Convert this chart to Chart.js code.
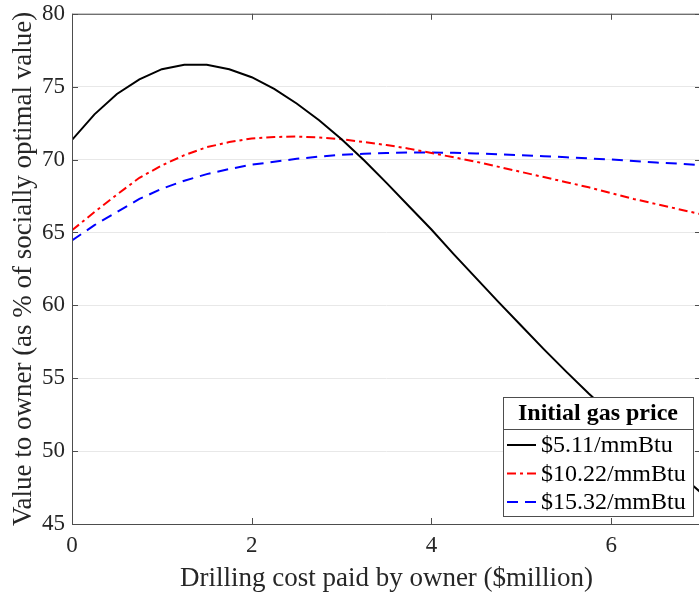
<!DOCTYPE html>
<html>
<head>
<meta charset="utf-8">
<title>Value to owner vs drilling cost</title>
<script src="https://cdn.jsdelivr.net/npm/chart.js@4.4.1/dist/chart.umd.min.js"></script>
<style>
    html, body { margin: 0; padding: 0; background: #fff; overflow: hidden; }
    #wrap { width: 699px; height: 595px; overflow: hidden; }
    /* the y tick labels force extra room above the axes; pull the canvas up */
    #valueChart { display: block; margin-top: -7px; }
</style>
</head>
<body>
<div id="wrap"><canvas id="valueChart" width="704" height="602"></canvas></div>
<script>
// drilling cost paid by owner, $million
const drillingCost = [0, 0.25, 0.5, 0.75, 1, 1.25, 1.5, 1.75, 2, 2.25, 2.5, 2.75, 3, 3.25, 3.5,
    3.75, 4, 4.25, 4.5, 4.75, 5, 5.25, 5.5, 5.75, 6, 6.25, 6.5, 6.75, 7];

// value to owner, % of socially optimal value, one array per initial gas price
const price511 = [71.35, 73.1, 74.5, 75.5, 76.2, 76.5, 76.5, 76.2, 75.65, 74.85, 73.85, 72.7, 71.4, 69.95, 68.4,
    66.8, 65.2, 63.5, 61.85, 60.2, 58.6, 57.0, 55.45, 53.95, 52.55, 51.2, 49.85, 48.5, 47.15];
const price1022 = [65.15, 66.4, 67.6, 68.75, 69.6, 70.3, 70.85, 71.2, 71.45, 71.55, 71.58, 71.52, 71.4, 71.2, 71.0,
    70.75, 70.45, 70.15, 69.85, 69.5, 69.15, 68.8, 68.45, 68.1, 67.7, 67.3, 66.95, 66.6, 66.25];
const price1532 = [64.45, 65.5, 66.4, 67.3, 68.0, 68.55, 69.0, 69.35, 69.65, 69.85, 70.05, 70.2, 70.33, 70.4, 70.45,
    70.48, 70.48, 70.46, 70.42, 70.36, 70.3, 70.23, 70.16, 70.08, 70.0, 69.9, 69.8, 69.72, 69.62];

const seriesLabels = ["$5.11/mmBtu", "$10.22/mmBtu", "$15.32/mmBtu"];
const legendTitle = "Initial gas price";
const xTicks = [0, 2, 4, 6];
const yTicks = [45, 50, 55, 60, 65, 70, 75, 80];

const serif = "'Liberation Serif', 'Times New Roman', serif";
const axisColor = "#4d4d4d";
const textColor = "#262626";

function toPoints(ys) {
    return drillingCost.map((x, i) => ({ x: x, y: ys[i] }));
}

// box around the axes with inward tick marks on all four sides
const framePlugin = {
    id: "frame",
    afterDatasetsDraw(chart) {
        const ctx = chart.ctx;
        const a = chart.chartArea;
        const xs = chart.scales.x;
        const ys = chart.scales.y;
        const len = 6;
        ctx.save();
        ctx.strokeStyle = axisColor;
        ctx.lineWidth = 1;
        ctx.strokeRect(a.left + 0.5, a.top + 0.5, a.right - a.left, a.bottom - a.top);
        ctx.beginPath();
        xTicks.forEach(v => {
            const px = Math.round(xs.getPixelForValue(v)) + 0.5;
            ctx.moveTo(px, a.bottom); ctx.lineTo(px, a.bottom - len);
            ctx.moveTo(px, a.top); ctx.lineTo(px, a.top + len);
        });
        yTicks.forEach(v => {
            const py = Math.round(ys.getPixelForValue(v)) + 0.5;
            ctx.moveTo(a.left, py); ctx.lineTo(a.left + len, py);
            ctx.moveTo(a.right, py); ctx.lineTo(a.right - len, py);
        });
        ctx.stroke();
        ctx.restore();
    }
};

// legend box with a bold title row, drawn in the lower right corner
const boxLegendPlugin = {
    id: "boxLegend",
    afterDraw(chart) {
        const ctx = chart.ctx;
        const a = chart.chartArea;
        const w = 190, h = 119;
        const right = a.right - 8, bottom = a.bottom - 8;
        const left = right - w, top = bottom - h;
        const titleH = 32;
        const rowH = 28.5;

        ctx.save();
        ctx.fillStyle = "#fff";
        ctx.fillRect(left, top, w, h);
        ctx.strokeStyle = axisColor;
        ctx.lineWidth = 1;
        ctx.strokeRect(left + 0.5, top + 0.5, w, h);
        ctx.beginPath();
        ctx.moveTo(left, top + titleH + 0.5);
        ctx.lineTo(left + w, top + titleH + 0.5);
        ctx.stroke();

        ctx.fillStyle = "#000";
        ctx.textBaseline = "middle";
        ctx.textAlign = "center";
        ctx.font = "bold 24px " + serif;
        ctx.fillText(legendTitle, left + w / 2, top + titleH / 2 + 1);

        ctx.textAlign = "left";
        ctx.font = "24px " + serif;
        chart.data.datasets.forEach((ds, i) => {
            const cy = top + titleH + 16 + i * rowH;
            ctx.beginPath();
            ctx.strokeStyle = ds.borderColor;
            ctx.lineWidth = ds.borderWidth;
            ctx.setLineDash(ds.borderDash || []);
            ctx.moveTo(left + 4, cy);
            ctx.lineTo(left + 33, cy);
            ctx.stroke();
            ctx.setLineDash([]);
            ctx.fillStyle = "#000";
            ctx.fillText(ds.label, left + 38, cy + 1);
        });
        ctx.restore();
    }
};

new Chart(document.getElementById("valueChart"), {
    type: "line",
    data: {
        datasets: [
            {
                label: seriesLabels[0],
                data: toPoints(price511),
                borderColor: "#000000",
                borderWidth: 2,
                pointRadius: 0,
                tension: 0
            },
            {
                label: seriesLabels[1],
                data: toPoints(price1022),
                borderColor: "#ff0000",
                borderWidth: 2,
                borderDash: [9, 4, 3, 4],
                pointRadius: 0,
                tension: 0
            },
            {
                label: seriesLabels[2],
                data: toPoints(price1532),
                borderColor: "#0000ff",
                borderWidth: 2,
                borderDash: [11, 7],
                pointRadius: 0,
                tension: 0
            }
        ]
    },
    options: {
        responsive: false,
        animation: false,
        layout: { padding: { top: 7, right: 3, left: 0, bottom: 0 } },
        plugins: {
            legend: { display: false },
            tooltip: { enabled: false }
        },
        scales: {
            x: {
                type: "linear",
                min: 0,
                max: 7,
                afterBuildTicks(scale) {
                    scale.ticks = xTicks.map(v => ({ value: v }));
                },
                afterFit(scale) { scale.height = 71; },
                grid: { display: false, drawTicks: false },
                border: { display: false },
                ticks: {
                    color: textColor,
                    padding: 8,
                    maxRotation: 0,
                    font: { family: serif, size: 23 }
                },
                title: {
                    display: true,
                    text: "Drilling cost paid by owner ($million)",
                    color: textColor,
                    padding: { top: 0, bottom: 0 },
                    font: { family: serif, size: 27 }
                }
            },
            y: {
                min: 45,
                max: 80,
                afterBuildTicks(scale) {
                    scale.ticks = yTicks.map(v => ({ value: v }));
                },
                afterFit(scale) { scale.width = 72; },
                grid: { color: "#e8e8e8", lineWidth: 1, drawTicks: false },
                border: { display: false },
                ticks: {
                    color: textColor,
                    padding: 7,
                    font: { family: serif, size: 23 }
                },
                title: {
                    display: true,
                    text: "Value to owner (as % of socially optimal value)",
                    color: textColor,
                    padding: { top: 8, bottom: 0 },
                    font: { family: serif, size: 27 }
                }
            }
        }
    },
    plugins: [framePlugin, boxLegendPlugin]
});
</script>
</body>
</html>
